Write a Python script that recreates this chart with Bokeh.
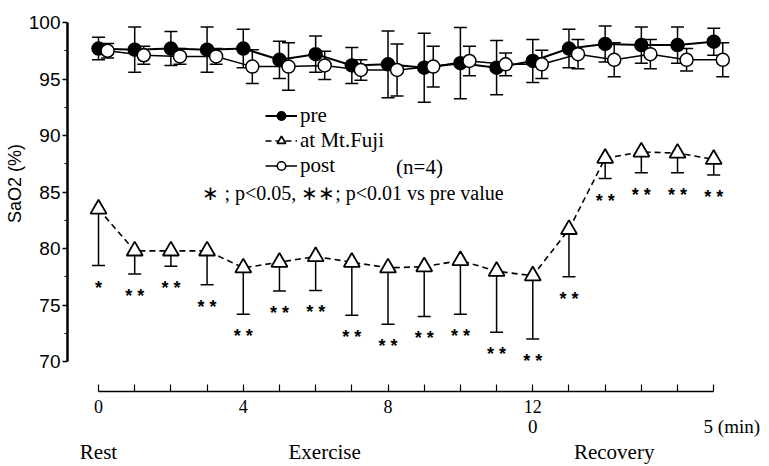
from bokeh.plotting import figure
from bokeh.models import (ColumnDataSource, Whisker, TeeHead, LinearAxis, FixedTicker,
                          Range1d, Legend, LegendItem, Label)
from bokeh.core.properties import value
from bokeh.embed import file_html
from bokeh.resources import INLINE

# ---------------- data ----------------
minutes = list(range(18))
pre = [97.7, 97.6, 97.7, 97.6, 97.7, 96.7, 97.2, 96.2, 96.3, 96.0, 96.4, 96.0,
       96.6, 97.7, 98.1, 98.0, 98.0, 98.3]
pre_sd = [1.0, 2.0, 1.5, 2.0, 1.7, 1.65, 1.6, 1.6, 2.95, 3.05, 3.15, 2.4,
          1.9, 1.7, 1.6, 1.6, 1.6, 1.2]
post = [97.5, 97.1, 97.0, 97.0, 96.1, 96.1, 96.2, 95.8, 95.8, 96.1, 96.6, 96.3,
        96.3, 97.2, 96.7, 97.2, 96.7, 96.7]
post_sd = [0.65, 0.8, 0.7, 0.7, 1.5, 2.1, 1.25, 0.9, 2.3, 1.8, 1.3, 1.0,
           1.25, 1.3, 1.5, 1.3, 1.0, 1.5]
fuji = [83.5, 79.8, 79.8, 79.8, 78.3, 78.8, 79.3, 78.8, 78.3, 78.4, 78.95, 78.0,
        77.6, 81.7, 88.0, 88.55, 88.45, 87.9]
fuji_sd = [5.0, 2.05, 1.35, 3.0, 4.1, 2.55, 3.0, 4.7, 5.0, 4.4, 4.75, 5.4,
           5.6, 4.2, 1.8, 1.85, 1.75, 1.4]
fuji_sig = ["*"] + ["**"] * 17

x_ticks = list(range(18))
x_tick_labels = {0: "0", 4: "4", 8: "8", 12: "12"}
recovery_label_pos = [12, 17.5]
recovery_labels = ["0", "5 (min)"]
phase_label_pos = [0, 6.25, 14.25]
phase_labels = ["Rest", "Exercise", "Recovery"]
y_ticks = [70, 75, 80, 85, 90, 95, 100]
y_minor = [72.5, 77.5, 82.5, 87.5, 92.5, 97.5]
y_label_pos = 85.75
y_label = "SaO2 (%)"
post_shift = 0.25

SERIF = "Liberation Serif"
SANS = "Liberation Sans"

# ---------------- figure ----------------
p = figure(width=769, height=466, output_backend="svg", toolbar_location=None,
           x_range=Range1d(-0.857, 17.74), y_range=Range1d(67.36, 100.62),
           x_axis_type=None, y_axis_type=None,
           min_border_left=67, min_border_top=15, min_border_right=29,
           min_border_bottom=73)
p.outline_line_color = None
p.background_fill_color = "white"

yaxis = LinearAxis(ticker=FixedTicker(ticks=y_ticks, minor_ticks=y_minor),
                   bounds=(70, 100), axis_line_width=2.5, axis_line_color="black",
                   major_tick_in=0, major_tick_out=5, major_tick_line_width=1.5,
                   minor_tick_in=0, minor_tick_out=3, minor_tick_line_width=1,
                   major_label_text_font=SANS, major_label_text_font_size="19px",
                   major_label_text_color="black", major_label_standoff=2)
p.add_layout(yaxis, "left")

ylab_axis = LinearAxis(ticker=FixedTicker(ticks=[y_label_pos]),
                       major_label_overrides={y_label_pos: y_label},
                       major_label_orientation="parallel",
                       axis_line_color=None, major_tick_line_color=None,
                       minor_tick_line_color=None, major_tick_out=0, major_tick_in=0,
                       major_label_standoff=0,
                       major_label_text_font=SANS, major_label_text_font_size="18px",
                       major_label_text_color="black")
p.add_layout(ylab_axis, "left")

xaxis = LinearAxis(ticker=FixedTicker(ticks=x_ticks), bounds=(0, 17),
                   major_label_overrides={t: x_tick_labels.get(t, "") for t in x_ticks},
                   axis_line_width=1.5, axis_line_color="black",
                   major_tick_in=7, major_tick_out=0, major_tick_line_width=1.2,
                   minor_tick_line_color=None,
                   major_label_text_font=SERIF, major_label_text_font_size="18px",
                   major_label_text_color="black", major_label_standoff=8)
p.add_layout(xaxis, "below")


def text_axis(ticks, labels, size):
    return LinearAxis(ticker=FixedTicker(ticks=ticks),
                      major_label_overrides=dict(zip(ticks, labels)),
                      axis_line_color=None, major_tick_line_color=None,
                      minor_tick_line_color=None, major_tick_out=0, major_tick_in=0,
                      major_label_standoff=0,
                      major_label_text_font=SERIF, major_label_text_font_size=size,
                      major_label_text_color="black")


p.add_layout(text_axis(recovery_label_pos, recovery_labels, "19px"), "below")
p.add_layout(text_axis(phase_label_pos, phase_labels, "21px"), "below")

# ---------------- series ----------------
post_x = [m + post_shift for m in minutes]
src_pre = ColumnDataSource(dict(x=minutes, y=pre,
                                up=[v + s for v, s in zip(pre, pre_sd)],
                                lo=[v - s for v, s in zip(pre, pre_sd)]))
src_post = ColumnDataSource(dict(x=post_x, y=post,
                                 up=[v + s for v, s in zip(post, post_sd)],
                                 lo=[v - s for v, s in zip(post, post_sd)]))
src_fuji = ColumnDataSource(dict(x=minutes, y=fuji,
                                 lo=[v - s for v, s in zip(fuji, fuji_sd)],
                                 star=[" ".join(list(s)) for s in fuji_sig]))


def tee():
    return TeeHead(size=13, line_width=1.5, line_color="black")


p.add_layout(Whisker(source=src_fuji, base="x", upper="y", lower="lo",
                     upper_head=None, lower_head=tee(),
                     line_width=1.5, line_color="black"))
p.add_layout(Whisker(source=src_pre, base="x", upper="up", lower="lo",
                     upper_head=tee(), lower_head=tee(),
                     line_width=1.5, line_color="black"))
p.add_layout(Whisker(source=src_post, base="x", upper="up", lower="lo",
                     upper_head=tee(), lower_head=tee(),
                     line_width=1.5, line_color="black"))

fuji_line = p.line("x", "y", source=src_fuji, line_color="black", line_width=1.6,
                   line_dash="6 4")
pre_line = p.line("x", "y", source=src_pre, line_color="black", line_width=2)
post_line = p.line("x", "y", source=src_post, line_color="black", line_width=1.5)

fuji_sc = p.scatter("x", "y", source=src_fuji, marker="triangle", size=16,
                    fill_color="white", line_color="black", line_width=1.8)
pre_sc = p.scatter("x", "y", source=src_pre, marker="circle", size=13,
                   fill_color="black", line_color="black", line_width=1.5)
post_sc = p.scatter("x", "y", source=src_post, marker="circle", size=13,
                    fill_color="white", line_color="black", line_width=1.5)

p.text("x", "lo", text="star", source=src_fuji, y_offset=22,
       text_align="center", text_baseline="alphabetic",
       text_font=value(SANS), text_font_style="bold", text_font_size="18px",
       text_color="black")

# ---------------- legend & notes ----------------
legend = Legend(items=[LegendItem(label="pre", renderers=[pre_line, pre_sc]),
                       LegendItem(label="at Mt.Fuji", renderers=[fuji_line, fuji_sc]),
                       LegendItem(label="post", renderers=[post_line, post_sc])],
                location=(198, 213), orientation="vertical",
                padding=0, margin=0, spacing=0, label_height=21, glyph_height=21,
                glyph_width=32, label_standoff=3,
                label_text_font=SERIF, label_text_font_size="21px",
                label_text_color="black",
                border_line_color=None, background_fill_alpha=0)
p.add_layout(legend)

p.add_layout(Label(x=8.87, y=87.25, text="(n=4)", text_align="center",
                   text_baseline="middle", text_font=SERIF, text_font_size="21px",
                   text_color="black"))
p.add_layout(Label(x=2.87, y=84.95,
                   text="\u2217 ; p<0.05,  \u2217\u2217; p<0.01 vs pre value",
                   text_align="left", text_baseline="middle", text_font=SERIF,
                   text_font_size="20px", text_color="black"))

open("out.html", "w").write(file_html(p, INLINE))
